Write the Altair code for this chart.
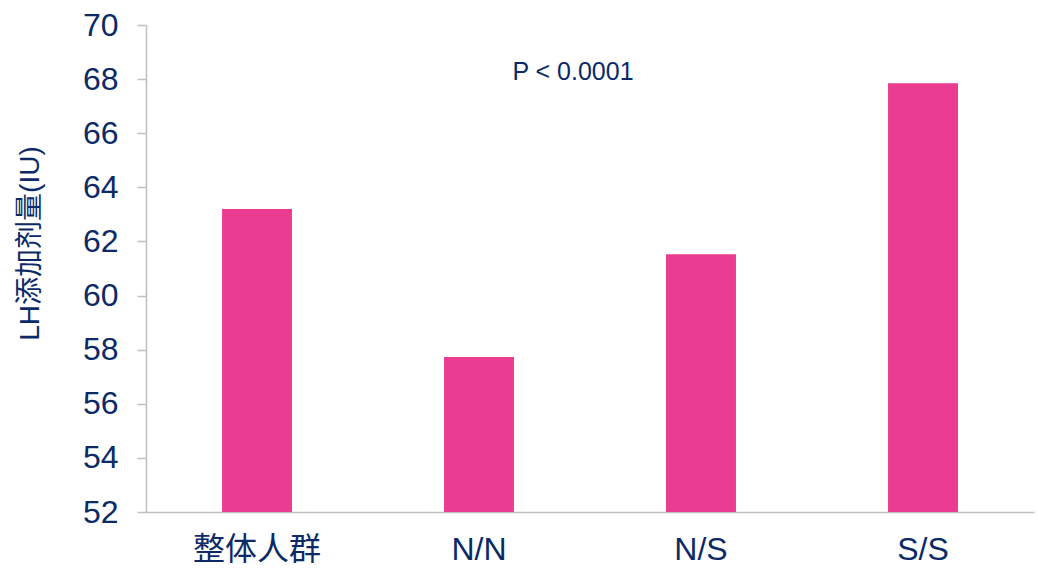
import altair as alt
import pandas as pd

# LH dose by genotype group
groups = ["整体人群", "N/N", "N/S", "S/S"]
lh_dose = [63.2, 57.73, 61.53, 67.85]

y_ticks = [52, 54, 56, 58, 60, 62, 64, 66, 68, 70]

navy = "#0B2A66"
pink = "#EA3D92"
axis_gray = "#C0C0C0"

df = pd.DataFrame({"group": groups, "dose": lh_dose})

bars = alt.Chart(df).mark_bar(color=pink).encode(
    x=alt.X(
        "group:N",
        sort=groups,
        title=None,
        scale=alt.Scale(paddingInner=0.685, paddingOuter=0.3425),
        axis=alt.Axis(
            labelAngle=0,
            labelFont="Liberation Sans, Noto Sans CJK SC",
            labelFontSize=32,
            labelColor=navy,
            labelPadding=22,
            ticks=False,
            domainColor=axis_gray,
            domainWidth=1.5,
        ),
    ),
    y=alt.Y(
        "dose:Q",
        title="LH添加剂量(IU)",
        scale=alt.Scale(domain=[52, 70], zero=False, nice=False, clamp=True),
        axis=alt.Axis(
            values=y_ticks,
            grid=False,
            labelFont="Liberation Sans, Noto Sans CJK SC",
            labelFontSize=32,
            labelColor=navy,
            labelPadding=19,
            tickSize=9,
            tickColor=axis_gray,
            tickWidth=1.5,
            domainColor=axis_gray,
            domainWidth=1.5,
            titleFont="Liberation Sans, Noto Sans CJK SC",
            titleFontSize=28,
            titleFontWeight="normal",
            titleColor=navy,
            titlePadding=38,
            titleY=218,
        ),
    ),
)

note = alt.Chart(pd.DataFrame({"label": ["P < 0.0001"]})).mark_text(
    font="Liberation Sans",
    fontSize=25,
    color=navy,
    align="center",
    baseline="middle",
).encode(
    text="label:N",
    x=alt.value(427),
    y=alt.value(47),
)

chart = (
    alt.layer(bars, note)
    .properties(
        width=888,
        height=487,
        autosize=alt.AutoSizeParams(type="none"),
        padding={"left": 146, "top": 25, "right": 4, "bottom": 64},
    )
    .configure(
        background="white",
        view=alt.ViewConfig(stroke="transparent", strokeWidth=0),
        style={"cell": {"stroke": "transparent", "strokeWidth": 0}},
    )
)

chart.save("out.html", embed_options={"renderer": "svg", "actions": False})
